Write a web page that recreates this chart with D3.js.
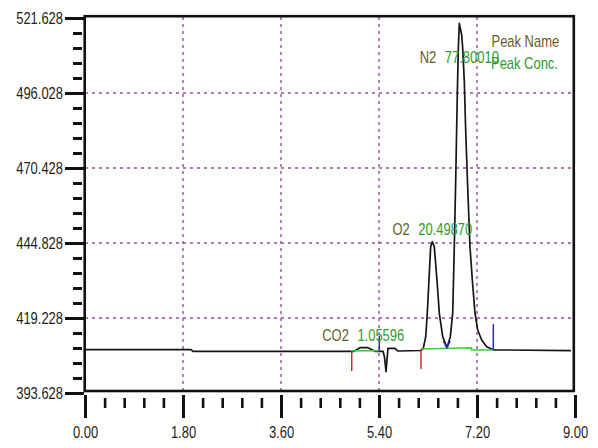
<!DOCTYPE html>
<html><head><meta charset="utf-8">
<script src="https://cdn.jsdelivr.net/npm/d3@7"></script>
<style>html,body{margin:0;padding:0;background:#fff;} svg{display:block;}</style>
</head><body><svg id="c" width="598" height="448"></svg>
<script>
// ---- data ----
const timeMin = [0, 1.947, 1.984, 4.941, 5.051, 5.198, 5.327, 5.474, 5.501, 5.529,
  5.565, 5.694, 5.749, 6.171, 6.214, 6.258, 6.287, 6.318, 6.349, 6.379, 6.415, 6.465,
  6.508, 6.570, 6.644, 6.655, 6.710, 6.754, 6.783, 6.809, 6.838, 6.857,
  6.875, 6.919, 6.937, 6.967, 6.993, 7.026, 7.071, 7.114, 7.163, 7.213,
  7.286, 7.378, 7.500, 8.927];
const signal = [408.41, 408.41, 407.86, 407.86, 409.09, 409.09, 407.86, 407.86, 405.92, 400.90,
  408.89, 408.89, 407.96, 408.14, 408.89, 412.85, 420.83, 432.20, 443.57, 445.27, 443.57, 432.20,
  420.83, 412.85, 409.33, 409.43, 412.85, 420.94, 443.57, 466.33, 495.35, 511.29,
  519.82, 515.83, 511.39, 499.89, 482.82, 465.31, 443.57, 432.20, 420.94, 415.13,
  411.72, 409.43, 408.37, 408.07];
const yTicks = [393.628, 419.228, 444.828, 470.428, 496.028, 521.628];
const xTicks = [0, 1.8, 3.6, 5.4, 7.2, 9.0];
const peakNames = ["CO2", "O2", "N2"];
const peakConc = ["1.05596", "20.49870", "77.80010"];
const peakRT = [5.11, 6.379, 6.875];
const startTimes = [4.899, 6.171];
const startBase = [407.95, 408.65];
const endTimes = [5.406, 7.500];
const endBase = [407.62, 408.30];
const endTop = [413.08, 417.18];
const valleyTimes = [6.645];
const valleyBase = [408.99];
const baseSegT = [[4.899, 5.406], [6.171, 7.10, 7.10, 7.500]];
const baseSegV = [[408.05, 408.05], [408.65, 409.09, 408.30, 408.30]];
const legendLines = ["Peak Name", "Peak Conc."];

// ---- chart ----
const svg = d3.select("#c");
const FONT = "'Liberation Sans', Arial, sans-serif";
const FS = 16;
const SX = 0.81;
const olive = "#606024", green = "#2c9c2c";
const x = d3.scaleLinear().domain([0, 9]).range([85, 575]);
const y = d3.scaleLinear().domain([393.628, 521.628]).range([393, 18]);

// grid
const grid = svg.append("g").attr("stroke", "#80308a").attr("stroke-width", 1.4)
  .attr("stroke-dasharray", "3,4").attr("opacity", 0.85);
grid.selectAll(".vg").data(xTicks.slice(1, -1)).enter().append("line")
  .attr("x1", d => x(d)).attr("x2", d => x(d)).attr("y1", 17).attr("y2", 391);
grid.selectAll(".hg").data(yTicks.slice(1, -1)).enter().append("line")
  .attr("x1", 85).attr("x2", 574).attr("y1", d => y(d)).attr("y2", d => y(d));

// trace
const pts = timeMin.map((t, i) => [t, signal[i]]);
svg.append("path").datum(pts)
  .attr("d", d3.line().x(d => x(d[0])).y(d => y(d[1])))
  .attr("fill", "none").attr("stroke", "#151515").attr("stroke-width", 1.7)
  .attr("stroke-linejoin", "round");

// baselines (green)
baseSegT.forEach((ts, i) => {
  const seg = ts.map((t, j) => [t, baseSegV[i][j]]);
  svg.append("path").datum(seg)
    .attr("d", d3.line().x(d => x(d[0])).y(d => y(d[1])))
    .attr("fill", "none").attr("stroke", "#3acc3a").attr("stroke-width", 1.6);
});

// markers
startTimes.forEach((t, i) => {
  svg.append("line").attr("x1", x(t)).attr("x2", x(t))
    .attr("y1", y(startBase[i])).attr("y2", y(startBase[i]) + 20)
    .attr("stroke", "#d02a2a").attr("stroke-width", 1.5);
});
endTimes.forEach((t, i) => {
  svg.append("line").attr("x1", x(t)).attr("x2", x(t))
    .attr("y1", y(endBase[i])).attr("y2", y(endTop[i]))
    .attr("stroke", "#2a2ac8").attr("stroke-width", 1.5);
});
valleyTimes.forEach((t, i) => {
  const vx = x(t), vy = y(valleyBase[i]);
  svg.append("path").attr("d", `M${vx - 3.5},${vy - 7}L${vx},${vy}L${vx + 3.5},${vy - 7}`)
    .attr("fill", "none").attr("stroke", "#2a2ac8").attr("stroke-width", 1.4);
});

// frame
svg.append("rect").attr("x", 84.7).attr("y", 16.2).attr("width", 489.1).attr("height", 374.8)
  .attr("fill", "none").attr("stroke", "#111").attr("stroke-width", 2.6);

// axes
function styleAxis(g, w) {
  g.select(".domain").remove();
  g.selectAll(".tick line").attr("stroke", "#111").attr("stroke-width", w);
  g.selectAll("text").attr("font-family", FONT).attr("font-size", FS).attr("fill", "#1e1e1e");
}
const minorY = [];
for (let i = 0; i < yTicks.length - 1; i++) for (let k = 1; k < 5; k++)
  minorY.push(yTicks[i] + k * (yTicks[i + 1] - yTicks[i]) / 5);
const minorX = [];
for (let i = 0; i < xTicks.length - 1; i++) for (let k = 1; k < 5; k++)
  minorX.push(xTicks[i] + k * (xTicks[i + 1] - xTicks[i]) / 5);

const gy = svg.append("g").attr("transform", "translate(84,0)")
  .call(d3.axisLeft(y).tickValues(yTicks).tickSize(19).tickPadding(2).tickFormat(d3.format(".3f")));
styleAxis(gy, 3);
gy.selectAll("text").each(function () {
  const t = d3.select(this); const xx = +t.attr("x");
  t.attr("x", xx / SX).attr("transform", `scale(${SX},1)`);
});
const gym = svg.append("g").attr("transform", "translate(82,0)")
  .call(d3.axisLeft(y).tickValues(minorY).tickSize(9).tickFormat(""));
styleAxis(gym, 3);

const gx = svg.append("g").attr("transform", "translate(0,395)")
  .call(d3.axisBottom(x).tickValues(xTicks).tickSize(23).tickPadding(9).tickFormat(d3.format(".2f")));
styleAxis(gx, 3);
gx.selectAll("text").attr("transform", `scale(${SX},1)`);
const gxm = svg.append("g").attr("transform", "translate(0,398)")
  .call(d3.axisBottom(x).tickValues(minorX).tickSize(10).tickFormat(""));
styleAxis(gxm, 2.6);

// peak labels
peakNames.forEach((name, i) => {
  const rt = peakRT[i];
  let apex = -Infinity;
  timeMin.forEach((t, j) => { if (Math.abs(t - rt) <= 0.09) apex = Math.max(apex, signal[j]); });
  const cy = Math.max(y(apex) - 12, 57);
  const txt = svg.append("text")
    .attr("transform", `translate(${x(rt)},${cy + 5.7}) scale(${SX},1)`)
    .attr("text-anchor", "middle").attr("font-family", FONT).attr("font-size", FS);
  txt.append("tspan").attr("fill", olive).text(name);
  txt.append("tspan").attr("fill", green).attr("dx", 10.5).text(peakConc[i]);
});

// legend
const legColors = [olive, green];
const legPos = [[491.5, 46.7], [491, 68.7]];
legendLines.forEach((s, i) => {
  svg.append("text").attr("transform", `translate(${legPos[i][0]},${legPos[i][1]}) scale(${SX},1)`)
    .attr("font-family", FONT).attr("font-size", FS).attr("fill", legColors[i]).text(s);
});
</script>
</body></html>
